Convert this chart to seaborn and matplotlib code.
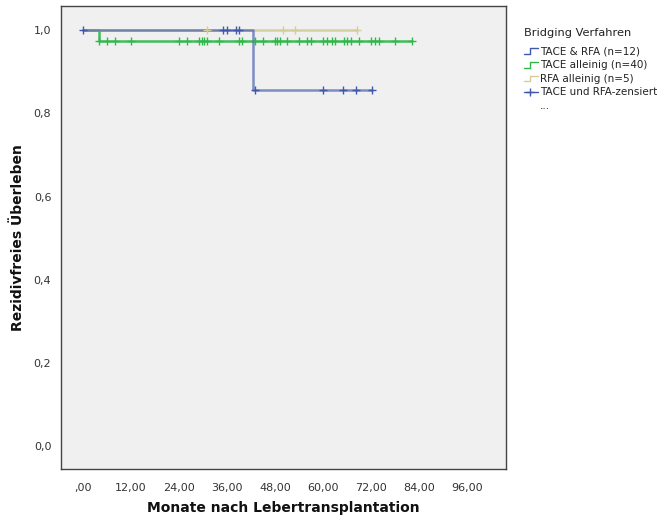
import numpy as np
import pandas as pd
import matplotlib
matplotlib.use("Agg")
import matplotlib.pyplot as plt
from matplotlib.lines import Line2D
from matplotlib.legend_handler import HandlerBase
import seaborn as sns

# ---------------- data ----------------
groups = ["TACE & RFA (n=12)", "TACE alleinig (n=40)", "RFA alleinig (n=5)"]
colors = ["#3E58AC", "#2EB848", "#D3CE97"]

# step curves: time (months) and survival level after each step
tace_rfa_t = [0.0, 42.5, 72.2]
tace_rfa_s = [1.0, 0.857, 0.857]
tace_t = [0.0, 4.1, 82.2]
tace_s = [1.0, 0.975, 0.975]
rfa_t = [0.0, 68.5]
rfa_s = [1.0, 1.0]

# censored observations (months)
tace_rfa_cens = [0.0, 35.1, 36.1, 38.2, 39.1, 43.0, 60.1, 65.1, 68.2, 72.2]
tace_cens = [4.1, 6.1, 8.0, 12.0, 24.1, 26.0, 29.1, 29.7, 30.3, 31.0, 34.1,
             39.1, 39.8, 43.1, 45.1, 48.0, 48.5, 49.3, 51.0, 54.1, 56.1,
             57.0, 60.1, 61.1, 62.2, 63.0, 65.2, 66.1, 67.0, 69.1, 72.1,
             73.0, 74.0, 78.0, 82.2]
rfa_cens = [30.9, 50.1, 53.1, 68.5]

x_ticks = [0, 12, 24, 36, 48, 60, 72, 84, 96]
x_ticklabels = [",00", "12,00", "24,00", "36,00", "48,00", "60,00", "72,00", "84,00", "96,00"]
y_ticks = [0.0, 0.2, 0.4, 0.6, 0.8, 1.0]
y_ticklabels = ["0,0", "0,2", "0,4", "0,6", "0,8", "1,0"]

curves = {groups[0]: (tace_rfa_t, tace_rfa_s, tace_rfa_cens),
          groups[1]: (tace_t, tace_s, tace_cens),
          groups[2]: (rfa_t, rfa_s, rfa_cens)}


def level_at(times, surv, t):
    idx = np.searchsorted(np.asarray(times), t, side="right") - 1
    return surv[max(idx, 0)]


curve_rows, cens_rows = [], []
for g, (t, s, c) in curves.items():
    for ti, si in zip(t, s):
        curve_rows.append({"month": ti, "surv": si, "group": g})
    for ci in c:
        cens_rows.append({"month": ci, "surv": level_at(t, s, ci), "group": g})
curve_df = pd.DataFrame(curve_rows)
cens_df = pd.DataFrame(cens_rows)

# ---------------- figure ----------------
sns.set_style("white")
plt.rcParams["font.family"] = ["DejaVu Sans"]

fig = plt.figure(figsize=(6.71, 5.23), dpi=100)
ax = fig.add_axes([61 / 671, 1 - 469 / 523, (505.7 - 61) / 671, (469 - 6) / 523])
ax.set_facecolor("#F0F0F0")

draw_order = [groups[1], groups[2], groups[0]]
alphas = {groups[0]: 0.65, groups[1]: 0.9, groups[2]: 0.9}
for g in draw_order:
    col = colors[groups.index(g)]
    sub = curve_df[curve_df["group"] == g]
    sns.lineplot(data=sub, x="month", y="surv", color=col, drawstyle="steps-post",
                 estimator=None, sort=False, lw=1.8, alpha=alphas[g], ax=ax, legend=False)
    csub = cens_df[cens_df["group"] == g]
    sns.scatterplot(data=csub, x="month", y="surv", color=col, marker="+", s=28,
                    linewidth=1.0, ax=ax, legend=False, zorder=3)

ax.set_xlim(-5.5, 105.7)
ax.set_ylim(-0.055, 1.058)
ax.set_xticks(x_ticks)
ax.set_xticklabels(x_ticklabels)
ax.set_yticks(y_ticks)
ax.set_yticklabels(y_ticklabels)
ax.tick_params(axis="both", direction="out", length=4, width=1, colors="#333333",
               labelsize=8, labelcolor="#333333", pad=3)
ax.tick_params(axis="x", pad=6)
for sp in ax.spines.values():
    sp.set_color("#444444")
    sp.set_linewidth(1.0)

ax.set_xlabel("Monate nach Lebertransplantation", fontsize=10, fontweight="bold",
              color="#111111", labelpad=6)
ax.set_ylabel("Rezidivfreies Überleben", fontsize=10, fontweight="bold",
              color="#111111", labelpad=6)


# ---------------- legend ----------------
class StepHandler(HandlerBase):
    def create_artists(self, legend, orig_handle, xdescent, ydescent, width, height,
                       fontsize, trans):
        x0, y0 = -xdescent, -ydescent
        xs = [x0, x0 + 0.45 * width, x0 + 0.45 * width, x0 + width]
        ys = [y0 + 0.05 * height, y0 + 0.05 * height, y0 + 0.8 * height, y0 + 0.8 * height]
        ln = Line2D(xs, ys, color=orig_handle.get_color(), lw=1.0, transform=trans)
        return [ln]


class CensHandler(HandlerBase):
    def create_artists(self, legend, orig_handle, xdescent, ydescent, width, height,
                       fontsize, trans):
        x0, y0 = -xdescent, -ydescent
        ym = y0 + 0.4 * height
        ln = Line2D([x0, x0 + width], [ym, ym], color=orig_handle.get_color(), lw=1.0,
                    transform=trans)
        mk = Line2D([x0 + 0.45 * width], [ym], color=orig_handle.get_color(), marker="+",
                    markersize=6, markeredgewidth=1.0, transform=trans)
        return [ln, mk]


class EmptyHandler(HandlerBase):
    def create_artists(self, legend, orig_handle, xdescent, ydescent, width, height,
                       fontsize, trans):
        ln = Line2D([0], [0], color="none", lw=0, transform=trans)
        ln.set_visible(False)
        return [ln]


step_handles = [Line2D([], [], color=c) for c in colors]
cens_handle = Line2D([], [], color=colors[0])
dots_handle = Line2D([], [], color="none")
hmap = {h: StepHandler() for h in step_handles}
hmap[cens_handle] = CensHandler()
hmap[dots_handle] = EmptyHandler()

leg = fig.legend(step_handles + [cens_handle, dots_handle],
                 groups + ["TACE und RFA-zensiert", "..."],
                 handler_map=hmap, title="Bridging Verfahren",
                 loc="upper left", bbox_to_anchor=(524 / 671, 1 - 28 / 523),
                 frameon=False, fontsize=7.5, title_fontsize=8.2,
                 handlelength=1.3, handletextpad=0.2, labelspacing=0.35,
                 borderpad=0, borderaxespad=0)
leg._legend_box.align = "left"
leg._legend_box.sep = 6
for t in leg.get_texts():
    t.set_color("#222222")
leg.get_title().set_color("#222222")

fig.savefig("out.png", dpi=100)
